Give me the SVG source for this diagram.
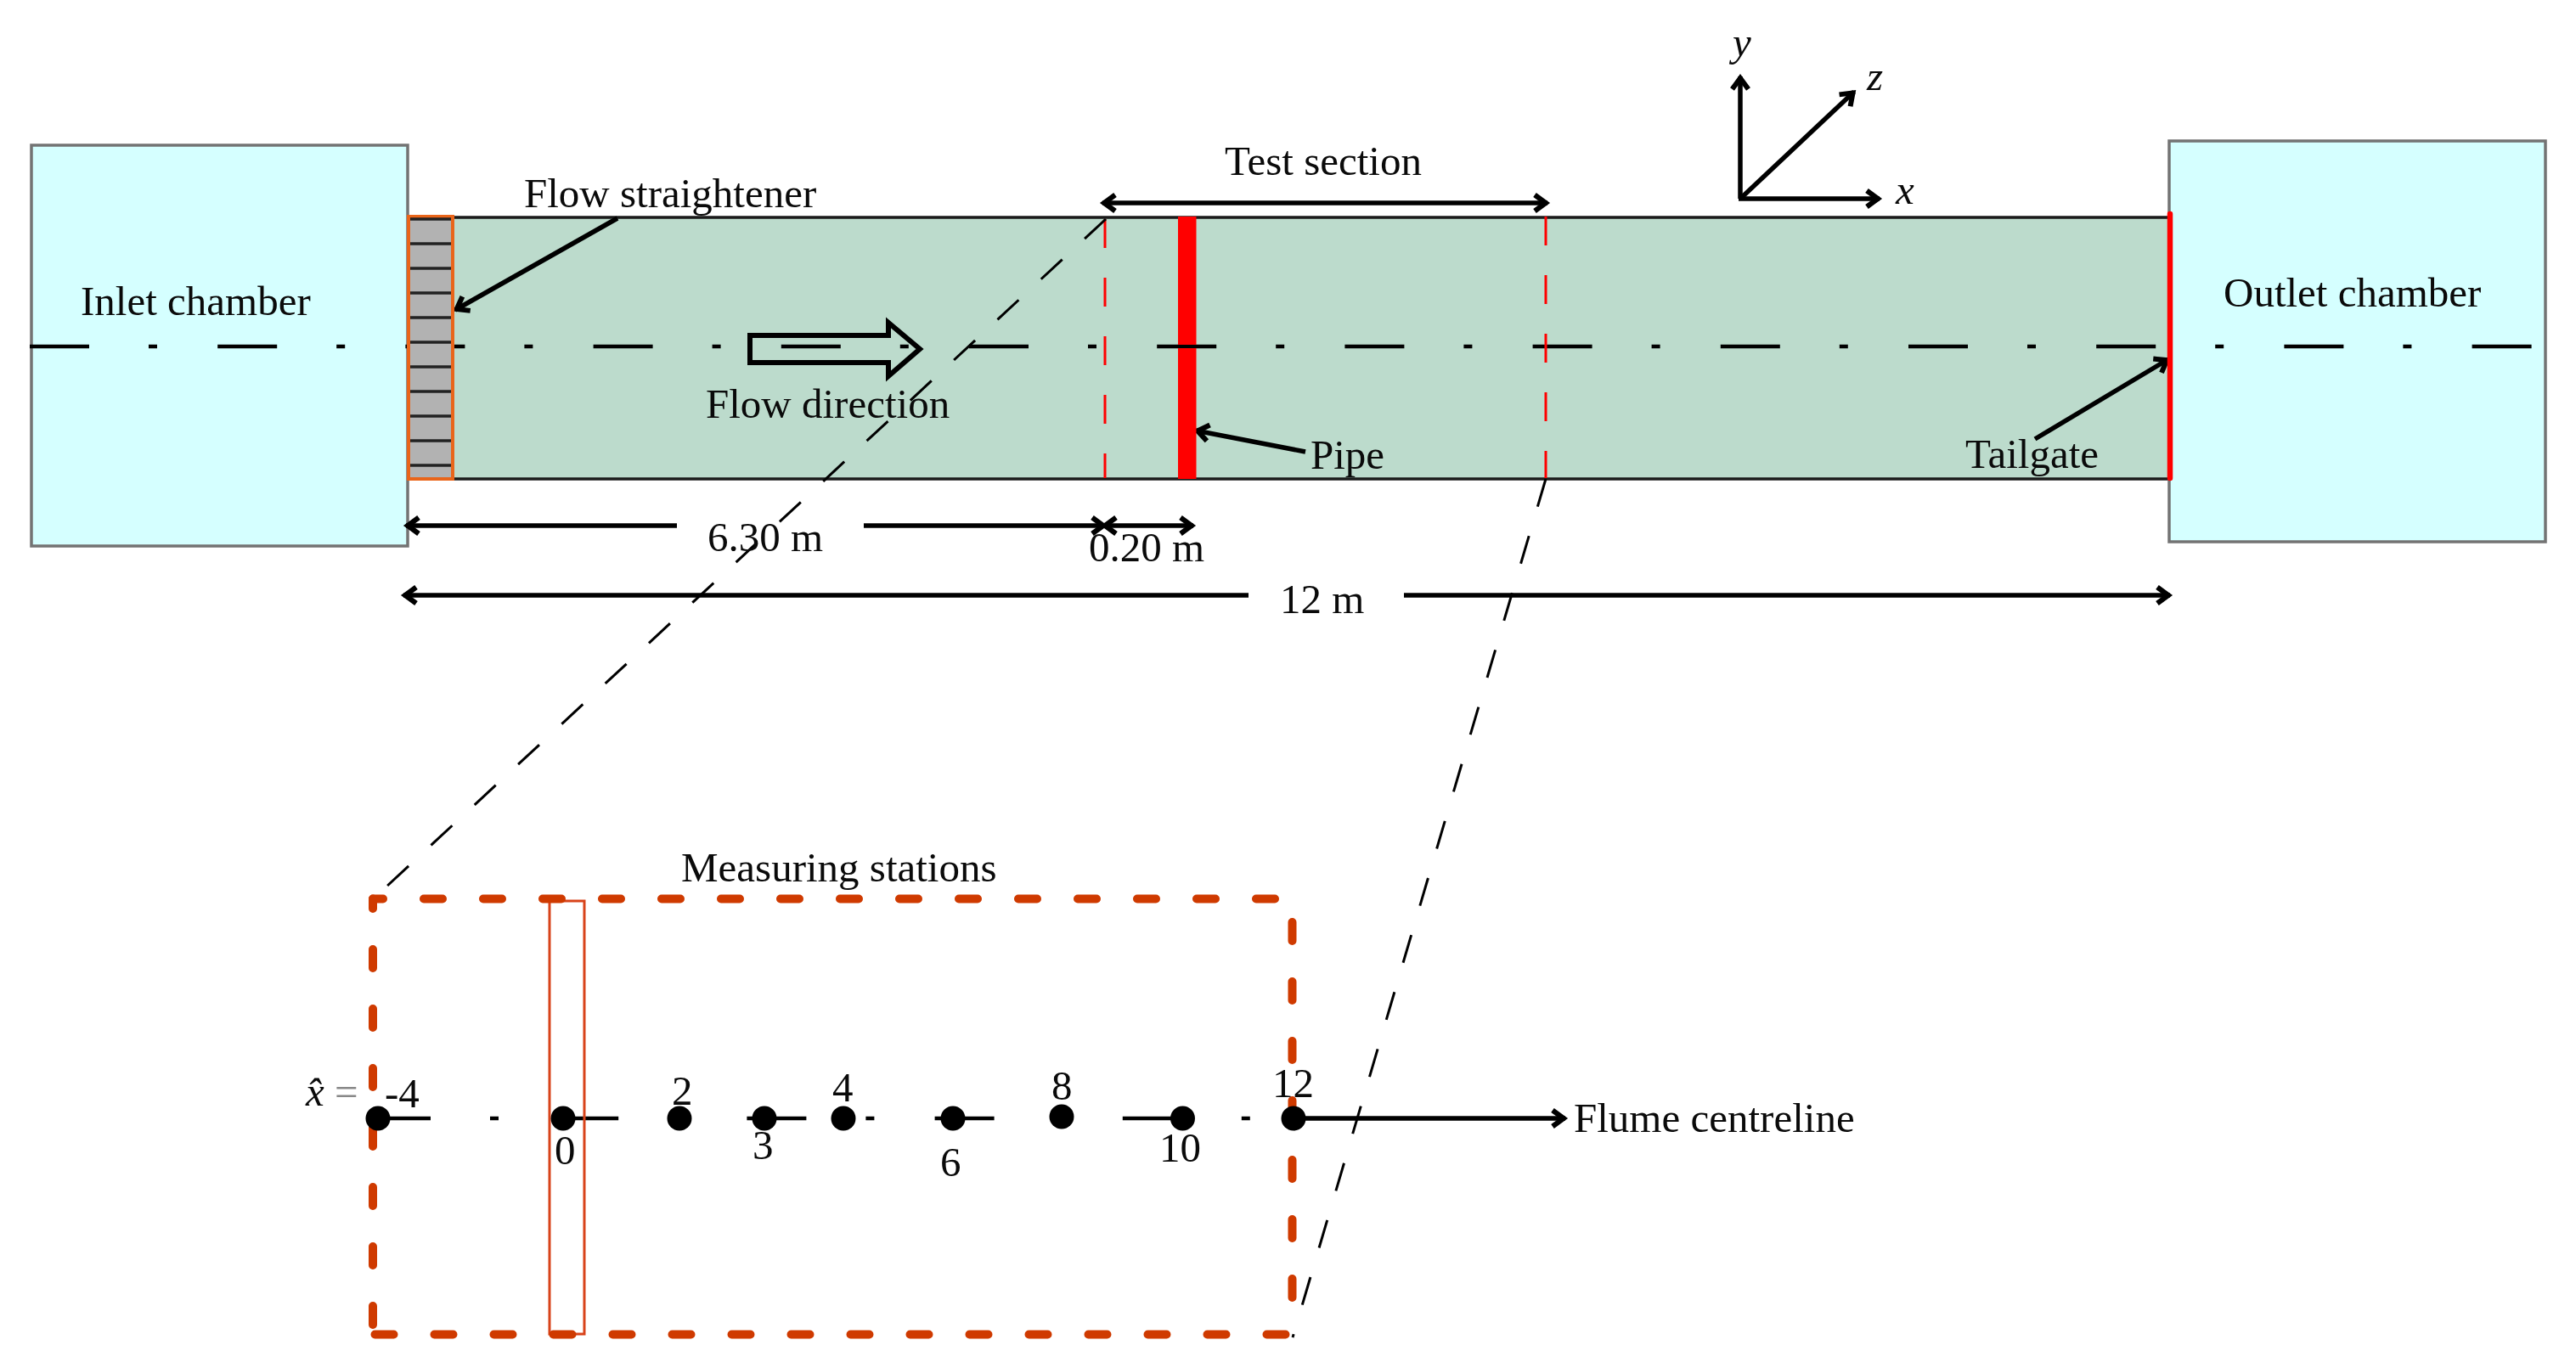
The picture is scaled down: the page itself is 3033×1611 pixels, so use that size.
<svg xmlns="http://www.w3.org/2000/svg" width="3033" height="1611" viewBox="0 0 3033 1611">
<defs>
<style>
text{font-family:"Liberation Serif","Times New Roman",serif;font-size:49px;fill:#0a0a0a}
.it{font-style:italic}
.chamber{fill:#d5ffff;stroke:#737373;stroke-width:3.5}
.ar{fill:none;stroke:#000;stroke-width:5.5;marker-end:url(#h)}
.ar2{fill:none;stroke:#000;stroke-width:5.5;marker-end:url(#h);marker-start:url(#h)}
.st{fill:none;stroke:#000;stroke-width:6}
.cl{fill:none;stroke:#000;stroke-width:4.5;stroke-dasharray:70 70 10 71.2}
.rd{fill:none;stroke:#f00;stroke-width:3;stroke-dasharray:34 35}
.zoomline{fill:none;stroke:#000;stroke-width:3;stroke-dasharray:34 36}
.box{fill:none;stroke:#cf3a00;stroke-width:10;stroke-linecap:round;stroke-dasharray:22 48}
.slat{stroke:#222;stroke-width:3.5}
.dot{fill:#000}
</style>
<marker id="h" markerUnits="userSpaceOnUse" markerWidth="30" markerHeight="30" refX="23" refY="15" orient="auto-start-reverse" overflow="visible">
<path d="M8,5.5 L21,15 L8,24.5" fill="none" stroke="#000" stroke-width="6"/>
</marker>
</defs>
<rect width="3033" height="1611" fill="#fff"/>
<g id="channel">
<rect x="480" y="256" width="2075" height="308" fill="#bcdbcc" stroke="#1a1a1a" stroke-width="3.5"/>
</g>
<g id="inlet-chamber">
<rect class="chamber" x="37" y="171" width="443" height="472"/>
</g>
<g id="outlet-chamber">
<rect class="chamber" x="2554" y="166" width="443" height="472"/>
</g>
<g id="connectors">
<line class="cl" x1="35" y1="408" x2="2981" y2="408"/>
<line class="rd" x1="1301" y1="258" x2="1301" y2="563"/>
<line class="rd" x1="1820" y1="255" x2="1820" y2="563"/>
<line class="zoomline" x1="1302" y1="258" x2="440" y2="1058"/>
<line class="zoomline" x1="1820" y1="564" x2="1522" y2="1575"/>
<line class="ar2" x1="1298" y1="239" x2="1822" y2="239"/>
<line class="ar" x1="727" y1="257" x2="536" y2="365"/>
<line class="ar" x1="1537" y1="532" x2="1408" y2="507"/>
<line class="ar" x1="2396" y1="517" x2="2553" y2="423"/>
<line class="ar" x1="797" y1="619" x2="478" y2="619"/>
<line class="ar" x1="1017" y1="619" x2="1301" y2="619"/>
<line class="ar2" x1="1299" y1="619" x2="1405" y2="619"/>
<line class="ar" x1="1470" y1="701" x2="475" y2="701"/>
<line class="ar" x1="1653" y1="701" x2="2555" y2="701"/>
<line class="ar" x1="2049" y1="234" x2="2049" y2="90"/>
<line class="ar" x1="2047" y1="234" x2="2213" y2="234"/>
<line class="ar" x1="2049" y1="234" x2="2183" y2="108"/>
<path class="st" d="M883,395 H1046 V380 L1083,411 L1046,443 V427 H883 Z"/>
<line class="cl" x1="437" y1="1317" x2="1530" y2="1317"/>
<line class="ar" x1="1523" y1="1317" x2="1843" y2="1317"/>
</g>
<g id="flow-straightener">
<rect x="481" y="255" width="52" height="309" fill="#b2b2b2" stroke="#e9651a" stroke-width="4"/>
<line class="slat" x1="483" x2="531" y1="258" y2="258"/>
<line class="slat" x1="483" x2="531" y1="287" y2="287"/>
<line class="slat" x1="483" x2="531" y1="316" y2="316"/>
<line class="slat" x1="483" x2="531" y1="345" y2="345"/>
<line class="slat" x1="483" x2="531" y1="374" y2="374"/>
<line class="slat" x1="483" x2="531" y1="403" y2="403"/>
<line class="slat" x1="483" x2="531" y1="432" y2="432"/>
<line class="slat" x1="483" x2="531" y1="461" y2="461"/>
<line class="slat" x1="483" x2="531" y1="490" y2="490"/>
<line class="slat" x1="483" x2="531" y1="519" y2="519"/>
<line class="slat" x1="483" x2="531" y1="548" y2="548"/>
</g>
<g id="pipe">
<rect x="1387" y="255" width="21.5" height="309" fill="#f00"/>
<line x1="1387" x2="1431" y1="408" y2="408" stroke="#000" stroke-width="4"/>
</g>
<g id="tailgate">
<line x1="2555" y1="252" x2="2555" y2="563" stroke="#f00" stroke-width="6.5" stroke-linecap="round"/>
</g>
<g id="measuring-box">
<rect x="647" y="1061" width="41" height="510" fill="none" stroke="#d8431a" stroke-width="3"/>
<line class="box" x1="439" y1="1058.5" x2="1505" y2="1058.5" stroke-dashoffset="10"/>
<line class="box" x1="439" y1="1058.5" x2="439" y2="1565" stroke-dashoffset="10.5"/>
<line class="box" x1="441.5" y1="1571.5" x2="1520" y2="1571.5"/>
<line class="box" x1="1521.5" y1="1086" x2="1521.5" y2="1535"/>
</g>
<g id="stations">
<circle class="dot" cx="445" cy="1317" r="14.5"/>
<circle class="dot" cx="663" cy="1317" r="14.5"/>
<circle class="dot" cx="800" cy="1317" r="14.5"/>
<circle class="dot" cx="900" cy="1317" r="14.5"/>
<circle class="dot" cx="993" cy="1317" r="14.5"/>
<circle class="dot" cx="1122" cy="1317" r="14.5"/>
<circle class="dot" cx="1250" cy="1315" r="14.5"/>
<circle class="dot" cx="1392.5" cy="1317" r="14.5"/>
<circle class="dot" cx="1523" cy="1317" r="14.5"/>
</g>
<g id="labels">
<text x="95" y="371">Inlet chamber</text>
<text x="2618" y="361">Outlet chamber</text>
<text x="617" y="244">Flow straightener</text>
<text x="831" y="492">Flow direction</text>
<text x="1442" y="206">Test section</text>
<text x="1543" y="552">Pipe</text>
<text x="2314" y="551">Tailgate</text>
<text x="833" y="649">6.30 m</text>
<text x="1282" y="661">0.20 m</text>
<text x="1507" y="722">12 m</text>
<text class="it" x="2040" y="66">y</text>
<text class="it" x="2198" y="106">z</text>
<text class="it" x="2232" y="240">x</text>
<text x="802" y="1038">Measuring stations</text>
<text x="360" y="1302"><tspan class="it">x̂</tspan> <tspan style="fill:#888">=</tspan></text>
<text x="453" y="1304">-4</text>
<text x="653" y="1371">0</text>
<text x="791" y="1301">2</text>
<text x="886" y="1365">3</text>
<text x="980" y="1297">4</text>
<text x="1107" y="1385">6</text>
<text x="1238" y="1295">8</text>
<text x="1365" y="1368">10</text>
<text x="1498" y="1292">12</text>
<text x="1853" y="1333">Flume centreline</text>
</g>
</svg>
